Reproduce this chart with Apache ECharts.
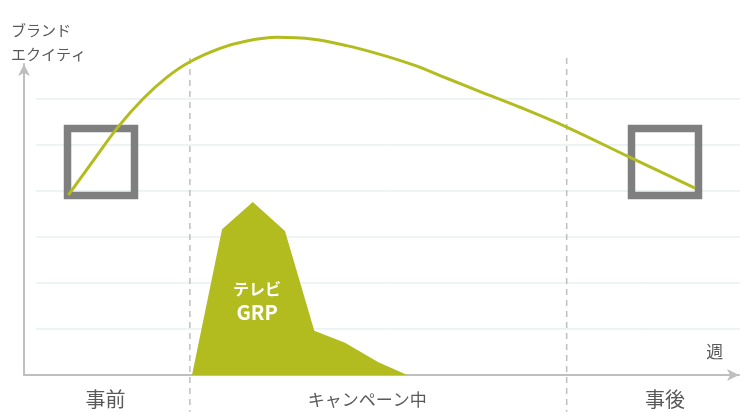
<!DOCTYPE html>
<html><head><meta charset="utf-8">
<script src="https://cdn.jsdelivr.net/npm/echarts@6/dist/echarts.min.js"></script>
<style>html,body{margin:0;padding:0;background:#fff}#c{width:745px;height:412px}</style>
</head><body><div id="c"></div>
<script>
// Brand equity curve (x: time units, y: level)
const equityX = [6.20, 9.69, 13.19, 16.69, 19.96, 23.22, 27.41, 31.15, 35.34, 40.46, 45.13, 49.79, 54.45, 59.12, 63.78, 69.37, 75.90, 84.76, 93.85];
const equityY = [3.91, 4.66, 5.40, 6.01, 6.47, 6.81, 7.10, 7.26, 7.34, 7.30, 7.16, 6.97, 6.74, 6.45, 6.16, 5.82, 5.39, 4.73, 4.06];
// TV GRP area
const grpX = [23.5, 27.7, 32.0, 36.5, 40.6, 44.9, 49.5, 53.6];
const grpY = [0, 3.17, 3.76, 3.13, 0.96, 0.70, 0.28, 0];
// Phases
const phaseLabels = ['事前', 'キャンペーン中', '事後'];
const phaseLabelX = [11.4, 48.0, 89.65];
const phaseLabelY = -0.54;
const phaseBoundaryX = [23.2, 75.9];
const boundaryRange = [6.89, -0.80];
// Gridlines
const gridLevels = [1, 2, 3, 4, 5, 6];
const gridStartX = 1.68, gridEndX = 100.8;
// Measurement boxes
const boxX = [10.77, 89.65];
const boxY = 4.63;
// Annotations
const weekLabel = { text: '週', x: 96.6, y: 0.52 };
const grpLabel = { x: 32.6, y: 1.62 };

const JP = '"Noto Sans CJK JP", "Noto Sans", sans-serif';
const GREEN = '#b3bc1f';
const TEXT = '#595959';

const series = [];
gridLevels.forEach(v => series.push({
  type: 'line', silent: true, clip: false, z: 1, symbol: 'none',
  lineStyle: { color: '#dde7e7', width: 1 },
  data: [[gridStartX, v], [gridEndX, v]]
}));
phaseBoundaryX.forEach(x => series.push({
  type: 'line', silent: true, clip: false, z: 2, symbol: 'none',
  lineStyle: { color: '#bfbfbf', width: 1.5, type: [6, 5] },
  data: [[x, boundaryRange[0]], [x, boundaryRange[1]]]
}));
series.push({
  type: 'line', silent: true, clip: false, z: 3, symbol: 'none',
  lineStyle: { width: 0 },
  areaStyle: { color: GREEN, opacity: 1 },
  data: grpX.map((x, i) => [x, grpY[i]])
});
series.push({
  type: 'scatter', silent: true, clip: false, z: 4,
  symbol: 'rect', symbolSize: 67,
  itemStyle: { color: 'rgba(0,0,0,0)', borderColor: '#7f7f7f', borderWidth: 7.5, opacity: 1 },
  data: boxX.map(x => [x, boxY])
});
series.push({
  type: 'line', silent: true, clip: false, z: 5, symbol: 'none', smooth: 0.35,
  lineStyle: { color: GREEN, width: 3 },
  data: equityX.map((x, i) => [x, equityY[i]])
});
series.push({
  type: 'scatter', silent: true, clip: false, z: 6, symbolSize: 0,
  itemStyle: { opacity: 1 },
  label: { show: true, position: 'inside', color: TEXT, fontFamily: JP, fontSize: 20 },
  data: phaseLabels.map((t, i) => ({
    value: [phaseLabelX[i], phaseLabelY],
    label: { formatter: t, fontSize: t.length > 2 ? 17 : 20 }
  })).concat([{
    value: [weekLabel.x, weekLabel.y],
    label: { formatter: weekLabel.text, fontSize: 17 }
  }, {
    value: [grpLabel.x, grpLabel.y],
    label: {
      formatter: '{a|テレビ}\n{b|GRP}',
      rich: {
        a: { color: '#fff', fontFamily: JP, fontSize: 16, fontWeight: 'bold', lineHeight: 24, align: 'center' },
        b: { color: '#fff', fontFamily: JP, fontSize: 20, fontWeight: 'bold', lineHeight: 24, align: 'center' }
      }
    }
  }])
});

const chart = echarts.init(document.getElementById('c'));
chart.setOption({
  animation: false,
  backgroundColor: '#fff',
  title: {
    text: 'ブランド\nエクイティ', left: 6, top: 13,
    textStyle: { color: TEXT, fontFamily: JP, fontSize: 15, fontWeight: 'normal', lineHeight: 24 }
  },
  grid: { left: 24, right: 6, top: 64, bottom: 37 },
  xAxis: {
    type: 'value', min: 0, max: 100,
    axisLine: { show: true, symbol: ['none', 'arrow'], symbolSize: [9, 12], lineStyle: { color: '#bfbfbf', width: 2 } },
    axisTick: { show: false }, axisLabel: { show: false }, splitLine: { show: false }
  },
  yAxis: {
    type: 'value', min: 0, max: 6.76,
    axisLine: { show: true, symbol: ['none', 'arrow'], symbolSize: [9, 12], lineStyle: { color: '#bfbfbf', width: 2 } },
    axisTick: { show: false }, axisLabel: { show: false }, splitLine: { show: false }
  },
  series
});
</script></body></html>
